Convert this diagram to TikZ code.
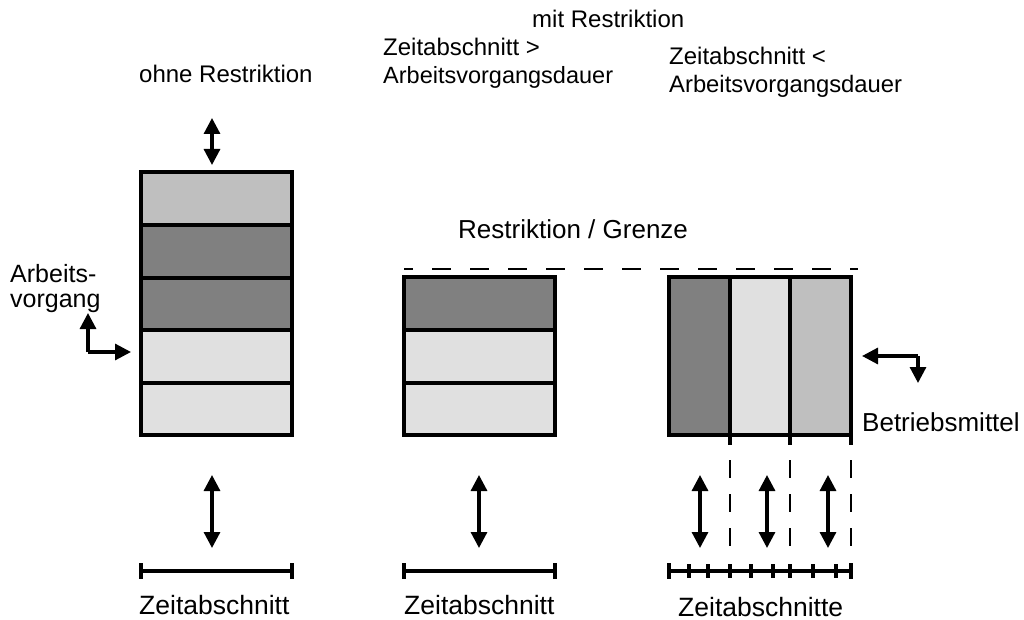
\documentclass[tikz,border=0pt]{standalone}
\usepackage{fontspec}
\setmainfont{Liberation Sans}
\usetikzlibrary{arrows.meta}
\definecolor{dark}{gray}{0.5}
\definecolor{mid}{gray}{0.75}
\definecolor{light}{gray}{0.878}
\newcommand{\fsz}[1]{\fontsize{#1}{#1}\selectfont}
\begin{document}
\begin{tikzpicture}[x=1pt,y=-1pt,
  cell/.style={draw=black,line width=3.2pt},
  dbl/.style={line width=3.2pt,{Triangle[length=16pt,width=16pt]}-{Triangle[length=16pt,width=16pt]}},
  sgl/.style={line width=3.2pt,-{Triangle[length=16pt,width=16pt]}},
  timebar/.style={line width=3.2pt},
  lbl/.style={inner sep=0pt,anchor=base west},
  limit/.style={line width=2.4pt,dash pattern=on 19pt off 19pt,dash phase=10pt}]
\useasboundingbox (0,0) rectangle (1024,620);

% stack without restriction
\fill[mid]   (141,172) rectangle (292,225);
\fill[dark]  (141,225) rectangle (292,278);
\fill[dark]  (141,278) rectangle (292,330);
\fill[light] (141,330) rectangle (292,383);
\fill[light] (141,383) rectangle (292,435);
\draw[cell] (141,172) rectangle (292,435);
\foreach \y in {225,278,330,383} \draw[cell] (141,\y) -- (292,\y);
\coordinate (b1top) at (212,165);
\coordinate (b1lab) at (212,118);

% stack under restriction, time slot longer
\fill[dark]  (404,277) rectangle (555,330);
\fill[light] (404,330) rectangle (555,383);
\fill[light] (404,383) rectangle (555,435);
\draw[cell] (404,277) rectangle (555,435);
\foreach \y in {330,383} \draw[cell] (404,\y) -- (555,\y);

% split across resources, time slot shorter
\fill[dark]  (669,277) rectangle (730,435);
\fill[light] (730,277) rectangle (790,435);
\fill[mid]   (790,277) rectangle (851,435);
\draw[cell] (669,277) rectangle (851,435);
\foreach \x in {730,790} \draw[cell] (\x,277) -- (\x,435);
\foreach \x in {730,790,851} {
  \draw[line width=3.2pt] (\x,435) -- (\x,445);
  \draw[line width=2.4pt,dash pattern=on 18pt off 16pt] (\x,460) -- (\x,546);
}

% restriction limit
\coordinate (limA) at (404,269);
\coordinate (limB) at (858,269);
\draw[limit] (limA) -- (limB);

% texts
\node[lbl,font=\fsz{24}] (mit) at (532,28) {mit Restriktion};
\node[lbl,font=\fsz{24}] (gt1) at (383,56) {Zeitabschnitt >};
\node[lbl,font=\fsz{23.5}] (gt2) at (383,84) {Arbeitsvorgangsdauer};
\node[lbl,font=\fsz{24}] (lt1) at (669,65) {Zeitabschnitt <};
\node[lbl,font=\fsz{23.8}] (lt2) at (669,93) {Arbeitsvorgangsdauer};
\node[lbl,font=\fsz{24}] (ohne) at (139,83) {ohne Restriktion};
\node[lbl,font=\fsz{26}] (grenze) at (458,239) {Restriktion / Grenze};
\node[lbl,font=\fsz{25}] (av1) at (10,282) {Arbeits-};
\node[lbl,font=\fsz{25}] (av2) at (10,307) {vorgang};
\node[lbl,font=\fsz{26}] (bm) at (862,431) {Betriebsmittel};
\node[lbl,font=\fsz{26.5}] (z1) at (139,614) {Zeitabschnitt};
\node[lbl,font=\fsz{26.5}] (z2) at (404,614) {Zeitabschnitt};
\node[lbl,font=\fsz{26.5}] (z3) at (678,616) {Zeitabschnitte};

% arrows
\draw[dbl] (b1lab) -- (b1top);
\coordinate (avUp) at (88,313);
\coordinate (avEnd) at (131,352);
\draw[sgl] (avUp |- avEnd) -- (avEnd);
\draw[sgl] (avUp |- avEnd) -- (avUp);
\coordinate (bmL) at (862,356);
\coordinate (bmD) at (918,383);
\draw[sgl] (bmD |- bmL) -- (bmL);
\draw[sgl] (bmD |- bmL) -- (bmD);
\foreach \x in {212,479,700,767,828}
  \draw[dbl] (\x,475) -- (\x,548);

% time scales
\foreach \a/\b in {141/292,404/555,669/851} {
  \draw[timebar] (\a,571) -- (\b,571);
  \draw[timebar] (\a,563) -- (\a,579);
  \draw[timebar] (\b,563) -- (\b,579);
}
\foreach \x in {689,708,730,751,773,790,813,836}
  \draw[timebar] (\x,564) -- (\x,578);
\end{tikzpicture}
\end{document}
